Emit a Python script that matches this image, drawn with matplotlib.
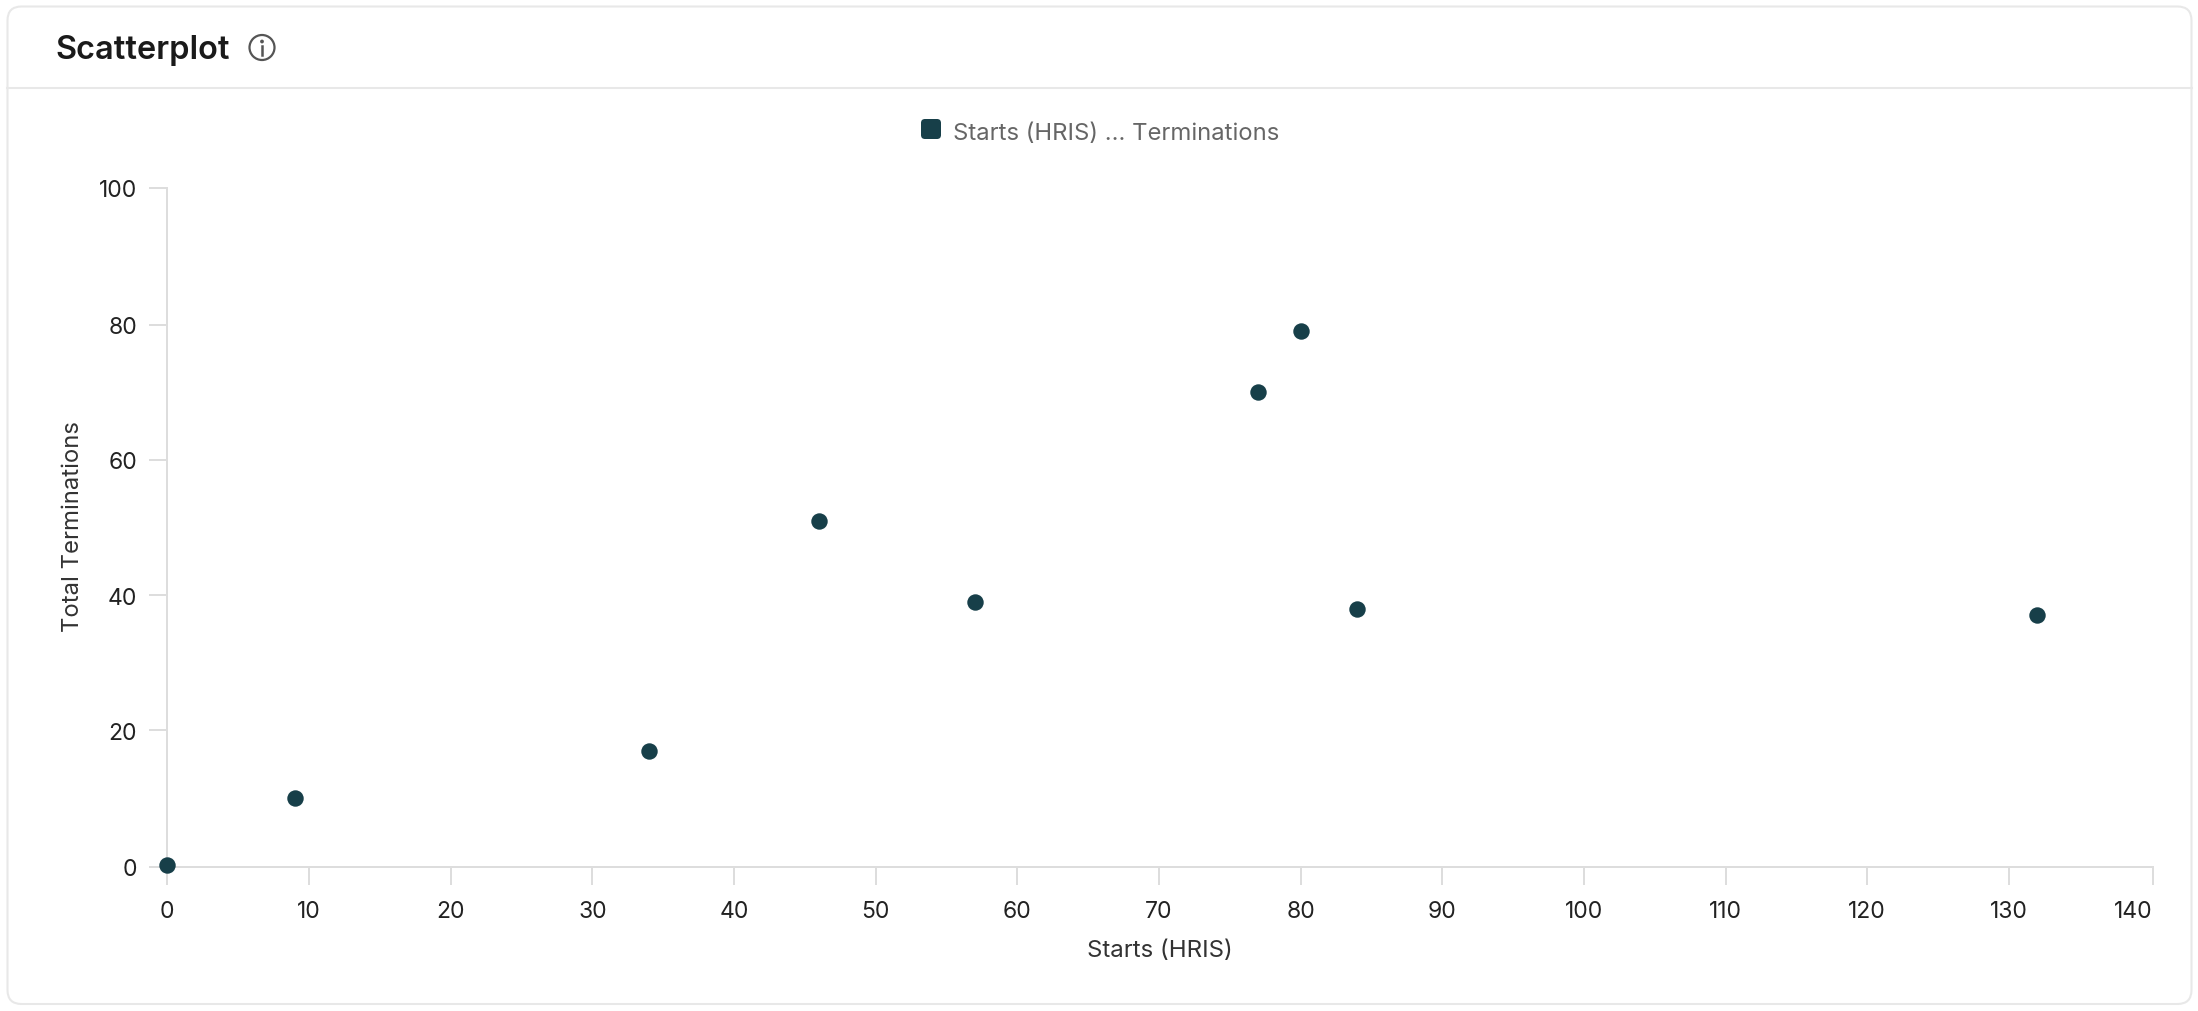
import matplotlib
matplotlib.use('Agg')
import matplotlib.pyplot as plt
from matplotlib.patches import FancyBboxPatch, Circle

starts = [0, 9, 34, 46, 57, 77, 80, 84, 132]
terminations = [0, 10, 17, 51, 39, 70, 79, 38, 37]
x_ticks = list(range(0, 150, 10))
y_ticks = [0, 20, 40, 60, 80, 100]

W, H = 2198, 1012
DPI = 100
DARK = '#173f49'
AXIS = '#dddddd'

plt.rcParams['font.family'] = ['Inter', 'DejaVu Sans']

fig = plt.figure(figsize=(W / DPI, H / DPI), dpi=DPI, facecolor='white')

# card, header and legend drawn in pixel coords
bg = fig.add_axes([0, 0, 1, 1])
bg.set_xlim(0, W)
bg.set_ylim(H, 0)
bg.axis('off')
bg.add_patch(FancyBboxPatch((7.5, 7.5), 2184, 997.5, boxstyle='round,pad=0,rounding_size=14',
                            fc='white', ec='#e8e8e8', lw=1.5))
bg.plot([7, 2192], [89, 89], color='#e8e8e8', lw=1.5)
bg.text(55.5, 50.5, 'Scatterplot', fontsize=23.4, fontweight='semibold', color='#1a1a1a', va='center', ha='left')

# info icon
bg.add_patch(Circle((262, 48.5), 12.5, fc='none', ec='#555555', lw=1.6))
bg.add_patch(Circle((262, 42.5), 1.9, fc='#555555', ec='none'))
bg.plot([262, 262], [47, 55.5], color='#555555', lw=1.8)

# legend
bg.add_patch(FancyBboxPatch((923, 122), 16, 16, boxstyle='round,pad=2,rounding_size=4', fc=DARK, ec='none'))
bg.text(953, 134, 'Starts (HRIS) ... Terminations', fontsize=17.15, color='#666666', va='center', ha='left')

# plot area: x 166.5-2153, y 188.5-867 px, the end ticks sit on the ends of the axes
left, right, top, bottom = 166.5, 2153, 188.5, 867.5
ax = fig.add_axes([left / W, 1 - bottom / H, (right - left) / W, (bottom - top) / H])
ax.patch.set_alpha(0)
x_min, x_max = -0.07, 140.17
y_min, y_max = -0.15, 100.3
ax.set_xlim(x_min, x_max)
ax.set_ylim(y_min, y_max)

ax.scatter(starts, terminations, s=140, color=DARK, linewidths=0, clip_on=False, zorder=5)

for side in ['top', 'right']:
    ax.spines[side].set_visible(False)
for side in ['left', 'bottom']:
    ax.spines[side].set_color(AXIS)
    ax.spines[side].set_linewidth(1.44)

ax.set_xticks([x_min] + x_ticks[1:-1] + [x_max], labels=x_ticks)
ax.set_yticks([y_min] + y_ticks[1:-1] + [y_max], labels=y_ticks)
ax.tick_params(axis='both', length=13.3, width=1.44, color=AXIS, labelcolor='#222222', labelsize=16.5)
ax.tick_params(axis='x', pad=10.5)
ax.tick_params(axis='y', pad=8)
ax.get_xticklabels()[-1].set_horizontalalignment('right')

bg.text(1160, 951.5, 'Starts (HRIS)', fontsize=17.3, color='#333333', ha='center', va='center')
bg.text(73, 527, 'Total Terminations', fontsize=17.2, color='#333333', ha='center', va='center', rotation=90)

fig.savefig('out.png', dpi=DPI)
